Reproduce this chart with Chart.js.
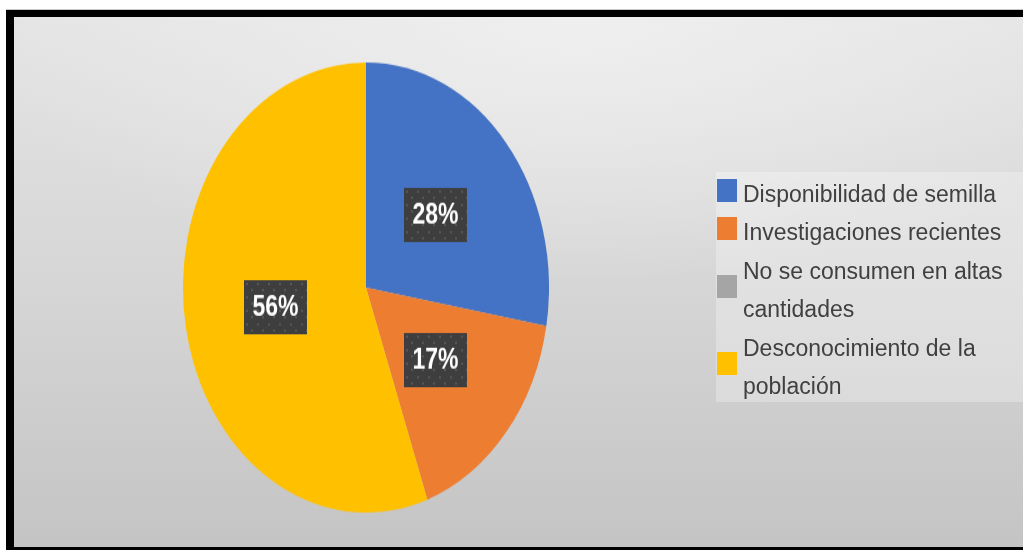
<!DOCTYPE html>
<html lang="es">
<head>
<meta charset="UTF-8">
<title>Factores</title>
<script src="https://cdn.jsdelivr.net/npm/chart.js@4"></script>
<style>
    html, body { margin: 0; padding: 0; background: #fff; }
    body { width: 1023px; height: 550px; overflow: hidden; position: relative; }
    #frame {
        position: absolute; left: 6px; top: 9px; width: 1040px; height: 560px;
        background: #000; border-top: 1px solid #c8c8c8;
    }
    #panel {
        position: absolute; left: 14px; top: 17px; width: 1020px; height: 530px;
        background:
            radial-gradient(ellipse 60% 50% at 55% 0%, rgba(240,240,240,0.9) 0%, rgba(240,240,240,0) 100%),
            linear-gradient(to bottom, #e4e4e4 0%, #d6d6d6 50%, #c4c4c4 100%);
    }
    /* the pie is drawn as a circle, then stretched into the tall ellipse */
    #stretch {
        position: absolute; left: 14px; top: 17px; width: 1009px; height: 431px;
        transform: scaleY(1.2297); transform-origin: 0 0;
    }
    #pie-box { position: absolute; left: 169px; top: 36.6px; width: 366px; height: 366px; }
    #legend {
        position: absolute; left: 716px; top: 172px; width: 330px; height: 230px;
        background: rgba(255,255,255,0.28); padding-top: 3px; box-sizing: border-box;
        font-family: 'Liberation Sans', Arial, sans-serif; font-size: 23px; color: #404040;
    }
    .item { display: flex; align-items: center; }
    .swatch { width: 20px; height: 23px; margin-left: 1px; margin-right: 6px; position: relative; top: -4px; flex: none; }
    .text { line-height: 38.4px; white-space: nowrap; }
</style>
</head>
<body>
    <div id="frame"></div>
    <div id="panel"></div>
    <div id="stretch">
        <div id="pie-box"><canvas id="pie"></canvas></div>
    </div>
    <div id="legend"></div>

<script>
    const categories = [
        'Disponibilidad de semilla',
        'Investigaciones recientes',
        ['No se consumen en altas', 'cantidades'],
        ['Desconocimiento de la', 'población']
    ];
    const percentages = [28, 17, 0, 56];
    const sliceColors = ['#4472c4', '#ed7d31', '#a5a5a5', '#ffc000'];

    // dotted fill used behind the percentage labels
    function makeDots() {
        const c = document.createElement('canvas');
        c.width = 11; c.height = 11;
        const g = c.getContext('2d');
        g.fillStyle = '#3e3e3e';
        g.fillRect(0, 0, 11, 11);
        g.fillStyle = '#555555';
        g.fillRect(2, 2, 2, 2);
        g.fillRect(7, 7, 2, 2);
        return g.createPattern(c, 'repeat');
    }

    const sliceLabels = {
        id: 'sliceLabels',
        afterDatasetsDraw(chart) {
            const ctx = chart.ctx;
            const values = chart.data.datasets[0].data;
            const dots = makeDots();
            chart.getDatasetMeta(0).data.forEach((arc, i) => {
                if (!values[i]) return;
                const p = arc.getCenterPoint();
                const w = 63, h = 44;
                ctx.save();
                ctx.fillStyle = dots;
                ctx.translate(Math.round(p.x - w / 2), Math.round(p.y - h / 2));
                ctx.fillRect(0, 0, w, h);
                ctx.fillStyle = '#ffffff';
                ctx.font = 'bold 23px "Liberation Sans", Arial, sans-serif';
                ctx.textAlign = 'center';
                ctx.textBaseline = 'middle';
                ctx.fillText(values[i] + '%', w / 2, h / 2 + 1);
                ctx.restore();
            });
        }
    };

    const chart = new Chart(document.getElementById('pie'), {
        type: 'pie',
        data: {
            labels: categories,
            datasets: [{
                data: percentages,
                backgroundColor: sliceColors,
                borderWidth: 0
            }]
        },
        options: {
            responsive: true,
            maintainAspectRatio: false,
            animation: false,
            events: [],
            layout: { padding: 0 },
            plugins: {
                legend: { display: false },
                tooltip: { enabled: false }
            }
        },
        plugins: [sliceLabels]
    });

    // legend built from the chart's own labels and colours
    const legendEl = document.getElementById('legend');
    chart.data.labels.forEach((label, i) => {
        const lines = Array.isArray(label) ? label : [label];
        const row = document.createElement('div');
        row.className = 'item';
        row.innerHTML = `<span class="swatch" style="background:${chart.data.datasets[0].backgroundColor[i]}"></span>` +
            `<span class="text">${lines.join('<br>')}</span>`;
        legendEl.appendChild(row);
    });
</script>
</body>
</html>
